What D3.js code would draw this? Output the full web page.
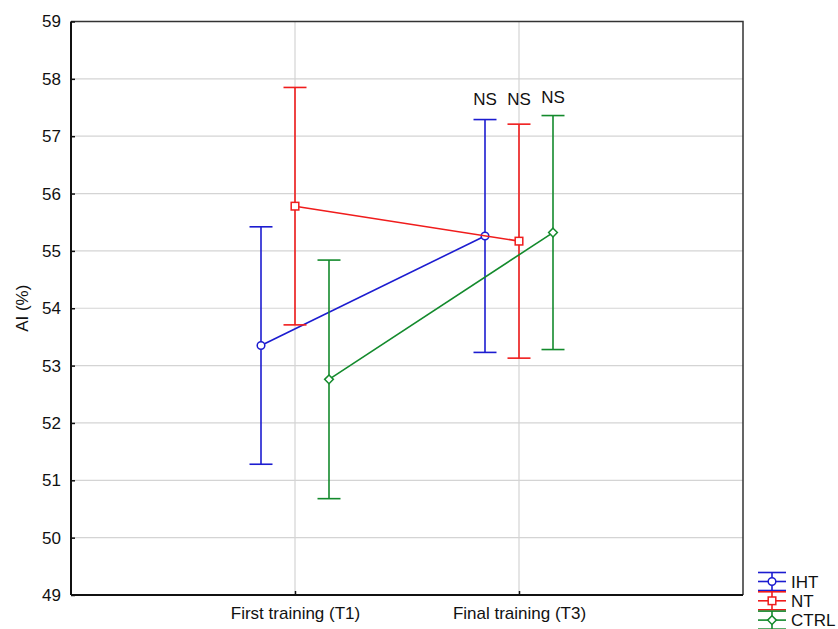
<!DOCTYPE html>
<html>
<head>
<meta charset="utf-8">
<script src="https://cdn.jsdelivr.net/npm/d3@7"></script>
<style>
  body { margin: 0; background: #fff; }
  svg { display: block; }
  text { font-family: "Liberation Sans", Arial, sans-serif; }
</style>
</head>
<body>
<svg id="chart" width="838" height="629"></svg>
<script>
// ---- data ----
const timepoints = ["First training (T1)", "Final training (T3)"];
const groups = ["IHT", "NT", "CTRL"];
const groupColors = ["#1c1cd0", "#f01c1c", "#138a2c"];
const groupMarkers = ["circle", "square", "diamond"];
const meanIHT = [53.35, 55.26];
const meanNT = [55.78, 55.17];
const meanCTRL = [52.76, 55.32];
const errIHT = [2.07, 2.03];
const errNT = [2.07, 2.04];
const errCTRL = [2.08, 2.04];
const yTicks = [49, 50, 51, 52, 53, 54, 55, 56, 57, 58, 59];
const nsLabels = ["NS", "NS", "NS"];
const nsLevel = [57.55, 57.55, 57.58];
const yLabel = "AI (%)";

const means = [meanIHT, meanNT, meanCTRL];
const errs = [errIHT, errNT, errCTRL];

// ---- layout ----
const svg = d3.select("#chart");
const L = 71, R = 743, T = 21.5, B = 595;
const x = d3.scalePoint().domain(timepoints).range([L, R]).padding(1);
const y = d3.scaleLinear().domain([49, 59]).range([B, T]);
const off = d3.scalePoint().domain(groups).range([-34, 34]);
const fs = 17;

// gridlines
svg.append("g").selectAll("line").data(yTicks.slice(1, -1)).join("line")
  .attr("x1", L).attr("x2", R).attr("y1", d => y(d)).attr("y2", d => y(d))
  .attr("stroke", "#d4d4d4").attr("stroke-width", 1.2);
svg.append("g").selectAll("line").data(timepoints).join("line")
  .attr("x1", d => x(d)).attr("x2", d => x(d)).attr("y1", T).attr("y2", B)
  .attr("stroke", "#d4d4d4").attr("stroke-width", 1.2);

// frame (top/right)
svg.append("path")
  .attr("d", `M${L},${T}H${R}V${B}`)
  .attr("fill", "none").attr("stroke", "#333").attr("stroke-width", 1.5);

// axes
const yAxis = d3.axisLeft(y).tickValues(yTicks).tickSize(-4).tickPadding(10).tickFormat(d3.format("d"));
const gy = svg.append("g").attr("transform", `translate(${L},0)`).call(yAxis);
const xAxis = d3.axisBottom(x).tickSize(-4).tickPadding(12);
const gx = svg.append("g").attr("transform", `translate(0,${B})`).call(xAxis);
[gy, gx].forEach(g => {
  g.select(".domain").attr("stroke", "#111").attr("stroke-width", 2);
  g.selectAll(".tick line").attr("stroke", "#111").attr("stroke-width", 1.5);
  g.selectAll(".tick text").attr("fill", "#111").style("font-size", fs + "px")
    .style("font-family", '"Liberation Sans", Arial, sans-serif');
});
gy.select(".domain").attr("d", `M0,${B}V${T}`);
gx.select(".domain").attr("d", `M${L},0H${R}`);
gx.selectAll(".tick text").attr("dy", "0.71em");

// y label
svg.append("text")
  .attr("transform", `translate(28,${(T + B) / 2}) rotate(-90)`)
  .attr("text-anchor", "middle").attr("fill", "#111")
  .style("font-size", fs + "px").text(yLabel);

// marker drawing
function drawMarker(g, type, cx, cy, color, s) {
  if (type === "circle") {
    g.append("circle").attr("cx", cx).attr("cy", cy).attr("r", s)
      .attr("fill", "#fff").attr("stroke", color).attr("stroke-width", 1.5);
  } else if (type === "square") {
    g.append("rect").attr("x", cx - s).attr("y", cy - s).attr("width", 2 * s).attr("height", 2 * s)
      .attr("fill", "#fff").attr("stroke", color).attr("stroke-width", 1.5);
  } else {
    const d = s * 1.15;
    g.append("path").attr("d", `M${cx},${cy - d}L${cx + d},${cy}L${cx},${cy + d}L${cx - d},${cy}Z`)
      .attr("fill", "#fff").attr("stroke", color).attr("stroke-width", 1.5);
  }
}

// series
const plot = svg.append("g");
groups.forEach((gName, gi) => {
  const color = groupColors[gi];
  const pts = timepoints.map((t, ti) => ({
    x: x(t) + off(gName), m: means[gi][ti], e: errs[gi][ti]
  }));
  const g = plot.append("g");
  // connecting line
  g.append("path")
    .attr("d", d3.line().x(d => d.x).y(d => y(d.m))(pts))
    .attr("fill", "none").attr("stroke", color).attr("stroke-width", 1.6);
  // error bars
  pts.forEach(p => {
    g.append("line").attr("x1", p.x).attr("x2", p.x)
      .attr("y1", y(p.m + p.e)).attr("y2", y(p.m - p.e))
      .attr("stroke", color).attr("stroke-width", 1.6);
    [p.m + p.e, p.m - p.e].forEach(v => {
      g.append("line").attr("x1", p.x - 11.5).attr("x2", p.x + 11.5)
        .attr("y1", y(v)).attr("y2", y(v))
        .attr("stroke", color).attr("stroke-width", 1.6);
    });
  });
  pts.forEach(p => drawMarker(g, groupMarkers[gi], p.x, y(p.m), color, gi === 1 ? 3.8 : 3.8));
});

// NS labels at T3
groups.forEach((gName, gi) => {
  svg.append("text")
    .attr("x", x(timepoints[1]) + off(gName))
    .attr("y", y(nsLevel[gi]))
    .attr("text-anchor", "middle").attr("fill", "#111")
    .style("font-size", fs + "px").text(nsLabels[gi]);
});

// legend
const leg = svg.append("g");
groups.forEach((gName, gi) => {
  const cy = 581.5 + gi * 19.3;
  const color = groupColors[gi];
  const x0 = 758, x1 = 786, cx = (x0 + x1) / 2;
  const gg = leg.append("g");
  [-9, 0, 9].forEach(dy => {
    gg.append("line").attr("x1", x0).attr("x2", x1).attr("y1", cy + dy).attr("y2", cy + dy)
      .attr("stroke", color).attr("stroke-width", 1.6);
  });
  gg.append("line").attr("x1", cx).attr("x2", cx).attr("y1", cy - 9).attr("y2", cy + 9)
    .attr("stroke", color).attr("stroke-width", 1.6);
  drawMarker(gg, groupMarkers[gi], cx, cy, color, 3.8);
  gg.append("text").attr("x", 791).attr("y", cy).attr("dy", "0.36em")
    .attr("fill", "#111").style("font-size", fs + "px").text(gName);
});
</script>
</body>
</html>
